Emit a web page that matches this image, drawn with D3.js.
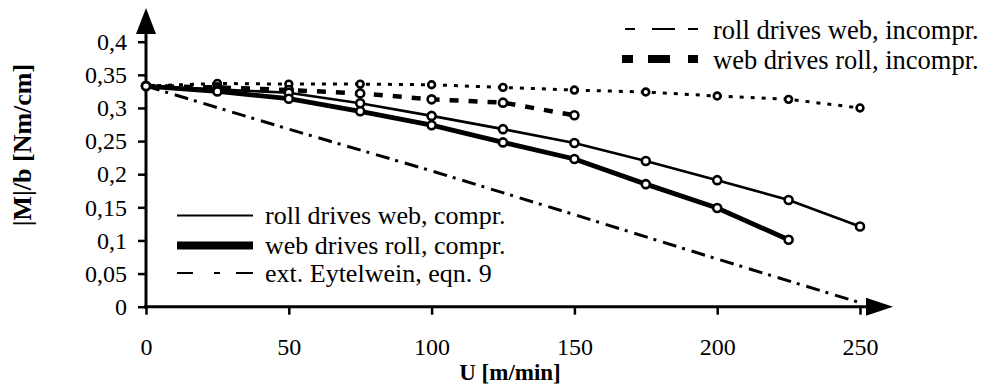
<!DOCTYPE html>
<html>
<head>
<meta charset="utf-8">
<script src="https://cdn.jsdelivr.net/npm/d3@7"></script>
<style>
  body { margin: 0; background: #fff; }
  text { font-family: "Liberation Serif", "Times New Roman", serif; fill: #000; }
</style>
</head>
<body>
<script>
// Data
const speeds = [0, 25, 50, 75, 100, 125, 150, 175, 200, 225, 250];
const rollIncompr = [0.333, 0.337, 0.336, 0.336, 0.335, 0.331, 0.327, 0.324, 0.318, 0.313, 0.300];
const webIncompr = [0.333, 0.331, 0.327, 0.322, 0.313, 0.308, 0.289];
const rollCompr = [0.333, 0.328, 0.323, 0.307, 0.288, 0.268, 0.247, 0.220, 0.191, 0.161, 0.121];
const webCompr = [0.333, 0.325, 0.314, 0.295, 0.274, 0.248, 0.223, 0.185, 0.149, 0.101];
const eytelU = [0, 50, 100, 150, 200, 250];
const eytelwein = [0.333, 0.268, 0.205, 0.139, 0.072, 0.006];

const xTicks = [0, 50, 100, 150, 200, 250];
const yTicks = [0, 0.05, 0.1, 0.15, 0.2, 0.25, 0.3, 0.35, 0.4];

const legendBottom = ['roll drives web, compr.', 'web drives roll, compr.', 'ext. Eytelwein, eqn. 9'];
const legendTop = ['roll drives web, incompr.', 'web drives roll, incompr.'];

// Create SVG
let width = 984,
    height = 391;

let svg = d3
  .select('body')
  .append('svg')
    .attr('width', width)
    .attr('height', height)
    .style('background', '#fff');

// Scales
let xScale = d3.scaleLinear()
  .domain([0, 250])
  .range([146, 860]);

let yScale = d3.scaleLinear()
  .domain([0, 0.4])
  .range([306.7, 41.7]);

const comma = d3.formatLocale({decimal: ',', thousands: '.', grouping: [3], currency: ['', '']}).format('~g');

// Axes
let yAxis = svg.append('g')
    .attr('transform', `translate(${xScale(0)},0)`)
    .call(d3.axisLeft(yScale).tickValues(yTicks).tickFormat(comma).tickSize(8).tickPadding(11).tickSizeOuter(0));

let xAxis = svg.append('g')
    .attr('transform', `translate(0,${yScale(0)})`)
    .call(d3.axisBottom(xScale).tickValues(xTicks).tickSize(8).tickPadding(23).tickSizeOuter(0));

[xAxis, yAxis].forEach(ax => {
  ax.select('.domain').remove();
  ax.attr('font-size', 24).attr('font-family', null);
  ax.selectAll('line').attr('stroke', '#000').attr('stroke-width', 2.5);
});

// axis lines with arrow heads
svg.append('line')
    .attr('x1', xScale(0)).attr('x2', xScale(0))
    .attr('y1', yScale(0) + 2).attr('y2', 30)
    .attr('stroke', '#000').attr('stroke-width', 3);
svg.append('polygon')
    .attr('points', `${xScale(0)},8 ${xScale(0) - 10},34 ${xScale(0) + 10},34`)
    .attr('fill', '#000');

svg.append('line')
    .attr('x1', xScale(0) - 2).attr('x2', 870)
    .attr('y1', yScale(0)).attr('y2', yScale(0))
    .attr('stroke', '#000').attr('stroke-width', 3);
svg.append('polygon')
    .attr('points', `893,${yScale(0)} 866,${yScale(0) - 9} 866,${yScale(0) + 9}`)
    .attr('fill', '#000');

// Axis titles
svg.append('text')
    .attr('transform', 'translate(31,145) rotate(-90)')
    .attr('text-anchor', 'middle')
    .attr('font-size', 26)
    .attr('font-weight', 'bold')
    .text('|M|/b [Nm/cm]');

svg.append('text')
    .attr('x', 510)
    .attr('y', 380)
    .attr('text-anchor', 'middle')
    .attr('font-size', 23)
    .attr('font-weight', 'bold')
    .text('U [m/min]');

// Series
let series = [
  {vals: eytelwein, u: eytelU, w: 3, dash: '14,6,3,7', dots: false},
  {vals: rollIncompr, u: speeds, w: 3, dash: '4,7', dots: true, r: 3.4},
  {vals: webIncompr, u: speeds, w: 4.5, dash: '9,10', dots: true, r: 4},
  {vals: rollCompr, u: speeds, w: 2.6, dash: null, dots: true, r: 4},
  {vals: webCompr, u: speeds, w: 4.8, dash: null, dots: true, r: 4}
];

let line = d3.line()
  .x(d => xScale(d[0]))
  .y(d => yScale(d[1]));

series.forEach(s => {
  let pts = s.vals.map((v, i) => [s.u[i], v]);
  s.pts = pts;
  svg.append('path')
      .datum(pts)
      .attr('d', line)
      .attr('fill', 'none')
      .attr('stroke', '#000')
      .attr('stroke-width', s.w)
      .attr('stroke-dasharray', s.dash);
});

series.filter(s => s.dots).forEach(s => {
  svg.append('g')
    .selectAll('circle')
      .data(s.pts)
    .enter()
    .append('circle')
      .attr('cx', d => xScale(d[0]))
      .attr('cy', d => yScale(d[1]))
      .attr('r', s.r)
      .attr('fill', '#fff')
      .attr('stroke', '#000')
      .attr('stroke-width', 2.6);
});

// Legend, bottom left
let lb = svg.append('g');
let lbY = [215.5, 245.5, 273];
lb.append('line').attr('x1', 177).attr('x2', 253).attr('y1', lbY[0]).attr('y2', lbY[0])
    .attr('stroke', '#000').attr('stroke-width', 2.2);
lb.append('line').attr('x1', 177).attr('x2', 253).attr('y1', lbY[1]).attr('y2', lbY[1])
    .attr('stroke', '#000').attr('stroke-width', 8);
lb.append('line').attr('x1', 177).attr('x2', 255).attr('y1', lbY[2]).attr('y2', lbY[2])
    .attr('stroke', '#000').attr('stroke-width', 2.2).attr('stroke-dasharray', '16,21,6,16,17');
lb.selectAll('text')
    .data(legendBottom)
  .enter()
  .append('text')
    .attr('x', 265)
    .attr('y', (d, i) => lbY[i] + 8.5)
    .attr('font-size', 26)
    .text(d => d);

// Legend, top right
let lt = svg.append('g');
let ltY = [29, 59];
lt.append('line').attr('x1', 625).attr('x2', 698).attr('y1', ltY[0]).attr('y2', ltY[0])
    .attr('stroke', '#000').attr('stroke-width', 2.2).attr('stroke-dasharray', '10,17,23,13,10');
lt.append('line').attr('x1', 622).attr('x2', 698).attr('y1', ltY[1]).attr('y2', ltY[1])
    .attr('stroke', '#000').attr('stroke-width', 8).attr('stroke-dasharray', '11,15,22,18,10');
lt.selectAll('text')
    .data(legendTop)
  .enter()
  .append('text')
    .attr('x', 713)
    .attr('y', (d, i) => ltY[i] + 10)
    .attr('font-size', 26.5)
    .text(d => d);
</script>
</body>
</html>
